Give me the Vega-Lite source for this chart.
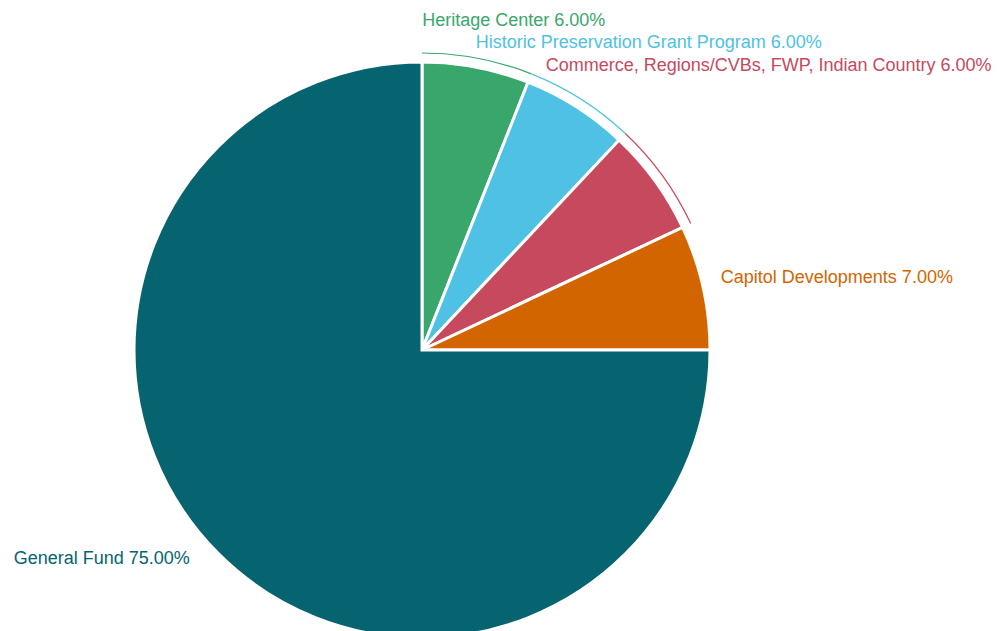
{
  "$schema": "https://vega.github.io/schema/vega-lite/v6.json",
  "width": 844,
  "height": 576,
  "autosize": {"type": "none"},
  "padding": {"left": 0, "top": 62, "right": 162, "bottom": 0},
  "background": "white",
  "config": {"view": {"stroke": null}, "text": {"font": "Liberation Sans", "fontSize": 18}},
  "data": {
    "values": [
      {"category": "Heritage Center", "value": 6, "rank": 1, "label": "Heritage Center 6.00%"},
      {"category": "Historic Preservation Grant Program", "value": 6, "rank": 2, "label": "Historic Preservation Grant Program 6.00%"},
      {"category": "Commerce, Regions/CVBs, FWP, Indian Country", "value": 6, "rank": 3, "label": "Commerce, Regions/CVBs, FWP, Indian Country 6.00%"},
      {"category": "Capitol Developments", "value": 7, "rank": 4, "label": "Capitol Developments 7.00%"},
      {"category": "General Fund", "value": 75, "rank": 5, "label": "General Fund 75.00%"}
    ]
  },
  "encoding": {
    "theta": {"field": "value", "type": "quantitative", "stack": true},
    "order": {"field": "rank", "type": "quantitative"},
    "color": {
      "field": "category",
      "type": "nominal",
      "scale": {
        "domain": ["Heritage Center", "Historic Preservation Grant Program", "Commerce, Regions/CVBs, FWP, Indian Country", "Capitol Developments", "General Fund"],
        "range": ["#39a76b", "#4fc1e4", "#c7495e", "#d26500", "#05646f"]
      },
      "legend": null
    }
  },
  "layer": [
    {"mark": {"type": "arc", "stroke": "white", "strokeWidth": 3}},
    {
      "mark": {"type": "arc", "radius": 297, "radius2": 297, "filled": false, "strokeWidth": 1.2},
      "encoding": {"strokeOpacity": {"condition": {"test": "datum.rank <= 3", "value": 1}, "value": 0}}
    },
    {
      "mark": {"type": "text", "radius": 300, "align": "left", "baseline": "middle", "dx": -56, "dy": -34},
      "encoding": {"text": {"condition": {"test": "datum.rank == 1", "field": "label"}, "value": ""}}
    },
    {
      "mark": {"type": "text", "radius": 300, "align": "left", "baseline": "middle", "dx": -107, "dy": -54},
      "encoding": {"text": {"condition": {"test": "datum.rank == 2", "field": "label"}, "value": ""}}
    },
    {
      "mark": {"type": "text", "radius": 300, "align": "left", "baseline": "middle", "dx": -119, "dy": -108},
      "encoding": {"text": {"condition": {"test": "datum.rank == 3", "field": "label"}, "value": ""}}
    },
    {
      "mark": {"type": "text", "radius": 300, "align": "left", "baseline": "middle", "dx": 6, "dy": -7},
      "encoding": {"text": {"condition": {"test": "datum.rank == 4", "field": "label"}, "value": ""}}
    },
    {
      "mark": {"type": "text", "radius": 300, "align": "right", "baseline": "middle", "dx": -20, "dy": -3},
      "encoding": {"text": {"condition": {"test": "datum.rank == 5", "field": "label"}, "value": ""}}
    }
  ]
}
